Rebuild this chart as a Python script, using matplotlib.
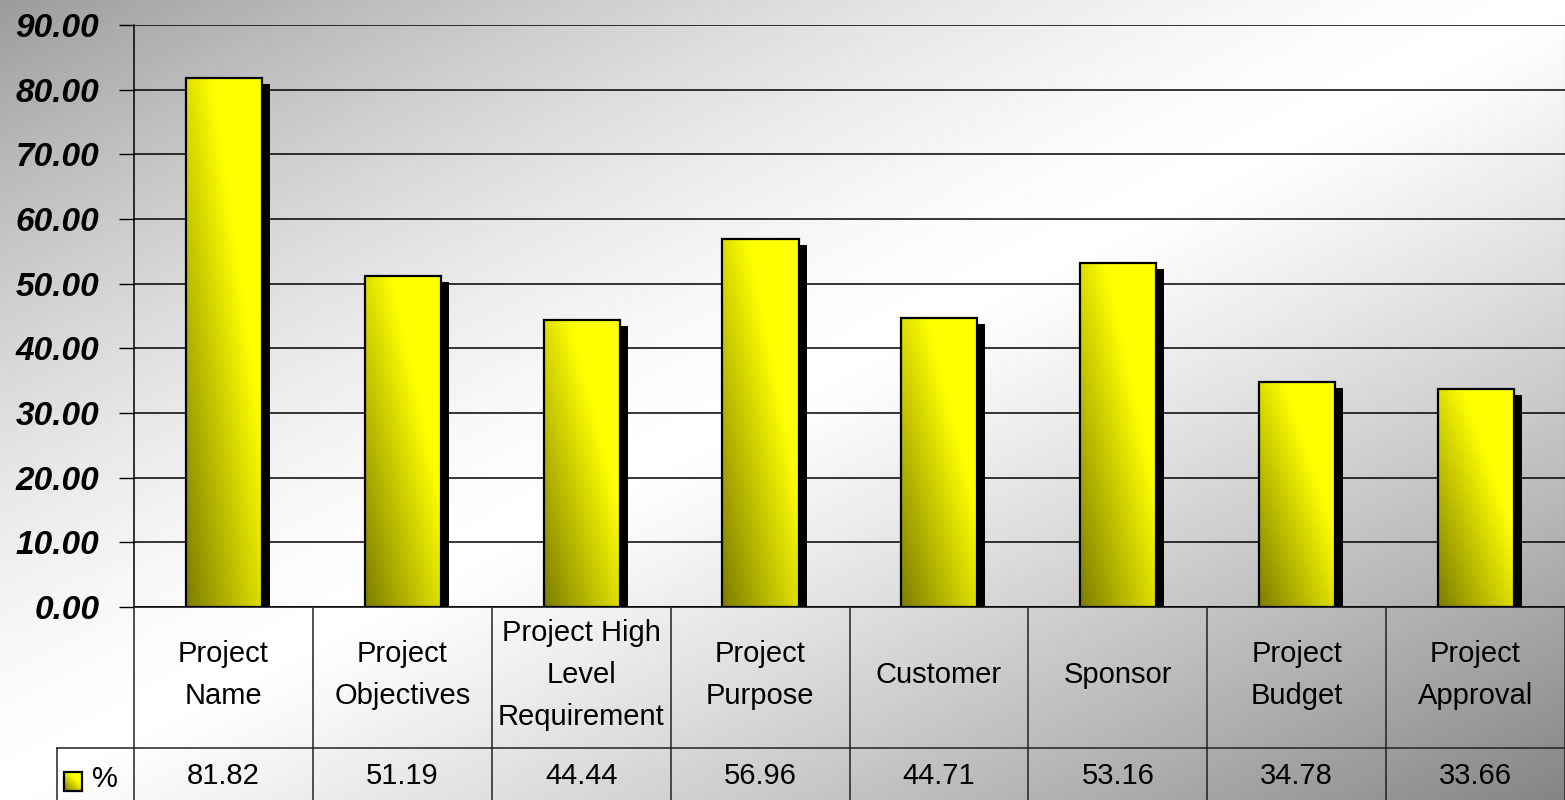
import numpy as np
import matplotlib
matplotlib.use("Agg")
import matplotlib.pyplot as plt
import matplotlib.transforms as mtransforms
from matplotlib.patches import Rectangle
from matplotlib.colors import LinearSegmentedColormap

# chart data
categories = ["Project\nName", "Project\nObjectives", "Project High\nLevel\nRequirement",
              "Project\nPurpose", "Customer", "Sponsor", "Project\nBudget", "Project\nApproval"]
values = [81.82, 51.19, 44.44, 56.96, 44.71, 53.16, 34.78, 33.66]
series_name = "%"
y_ticks = np.arange(0, 100, 10)

W, H = 1565, 800
plt.rcParams['font.family'] = ['Liberation Sans', 'DejaVu Sans']
fig = plt.figure(figsize=(W / 100, H / 100), dpi=100)

# diagonal grey -> white -> grey backdrop
bg = fig.add_axes([0, 0, 1, 1])
bg.set_axis_off()
xx, yy = np.meshgrid(np.linspace(0, 1, 500), np.linspace(0, 1, 300))
t = (xx + yy) / 2
d = np.abs(2 * t - 1)
shade = np.where(t < 0.5, 1 - 0.39 * d ** 1.5, 1 - 0.48 * d ** 1.15)
bg.imshow(shade, cmap='gray', vmin=0, vmax=1, aspect='auto',
          extent=[0, 1, 0, 1], origin='upper', interpolation='bilinear')
bg.set_xlim(0, 1)
bg.set_ylim(0, 1)

bar_cmap = LinearSegmentedColormap.from_list('olive_yellow', ['#7d7d00', '#ffff00'])
u, v = np.meshgrid(np.linspace(0, 1, 60), np.linspace(0, 1, 200))
bar_grad = np.clip((u + v) * 0.75, 0, 1)

ax = fig.add_axes([134 / W, (H - 607) / H, (W - 134) / W, (607 - 25) / H])
ax.set_facecolor('none')

bar_w = 0.425
shadow_tr = ax.transData + mtransforms.ScaledTranslation(8 / 100, -6 / 100, fig.dpi_scale_trans)
for i, val in enumerate(values):
    x0 = i + 0.29
    ax.add_patch(Rectangle((x0, 0), bar_w, val, facecolor='black', edgecolor='none',
                           transform=shadow_tr, zorder=2))
    ax.imshow(bar_grad, cmap=bar_cmap, vmin=0, vmax=1, aspect='auto', origin='lower',
              extent=[x0, x0 + bar_w, 0, val], zorder=3, interpolation='bilinear')
    ax.add_patch(Rectangle((x0, 0), bar_w, val, fill=False, edgecolor='black',
                           linewidth=1.6, zorder=4))

ax.set_xlim(0, len(values))
ax.set_ylim(0, 90)
ax.set_xticks([])
ax.set_yticks(y_ticks, labels=[f"{y:.2f}" for y in y_ticks],
              fontsize=24, fontweight='bold', fontstyle='italic')
ax.tick_params(axis='y', length=11, width=1, pad=14, colors='black')
ax.yaxis.grid(True, color='black', linewidth=1.1)
ax.set_axisbelow(True)
ax.spines['top'].set_visible(False)
ax.spines['right'].set_color('#888888')
ax.spines['left'].set_linewidth(1.1)
ax.spines['bottom'].set_linewidth(1.1)

# data table beneath the plot
tab = fig.add_axes([134 / W, 0, (W - 134) / W, 193 / H])
tab.set_axis_off()
line_kw = dict(color='#222222', linewidth=1.1, clip_on=False)
for i in range(len(values) + 1):
    tab.plot([i, i], [0, 193], **line_kw)
left_edge = (57 - 134) / 178.9
tab.plot([left_edge, len(values)], [141, 141], **line_kw)
tab.plot([left_edge, left_edge], [141, 193], **line_kw)

for i, (cat, val) in enumerate(zip(categories, values)):
    tab.text(i + 0.5, 68, cat, ha='center', va='center', fontsize=21, linespacing=1.65)
    tab.text(i + 0.5, 169, f"{val:.2f}", ha='center', va='center', fontsize=21)

# legend key
kx0, kx1 = (64 - 134) / 178.9, (82 - 134) / 178.9
key = tab.imshow(bar_grad, cmap=bar_cmap, vmin=0, vmax=1, aspect='auto', origin='lower',
                 extent=[kx0, kx1, 184, 165], interpolation='bilinear')
key.set_clip_on(False)
tab.add_patch(Rectangle((kx0, 165), kx1 - kx0, 19, fill=False, edgecolor='black',
                        linewidth=1.6, clip_on=False))
tab.text((105 - 134) / 178.9, 172, series_name, ha='center', va='center', fontsize=21)
tab.set_xlim(0, len(values))
tab.set_ylim(193, 0)

fig.savefig("out.png", dpi=100)
